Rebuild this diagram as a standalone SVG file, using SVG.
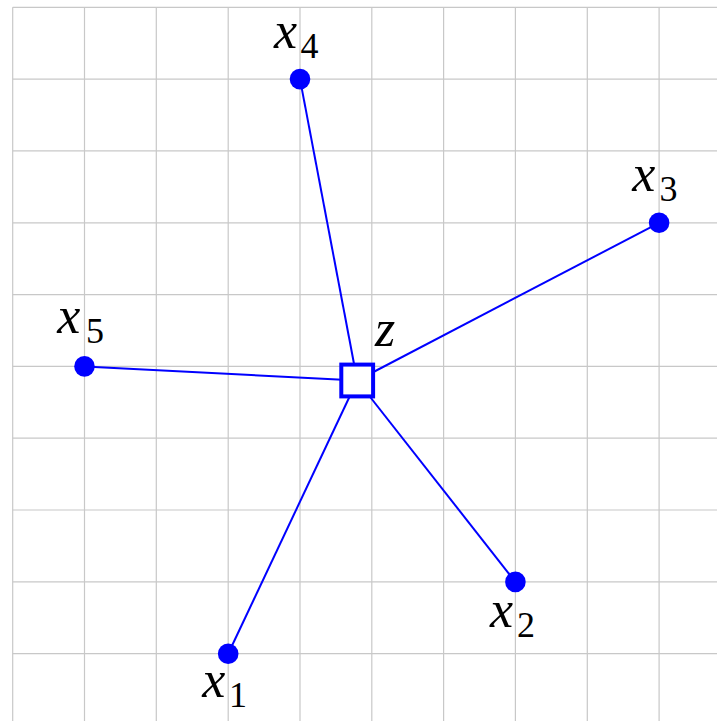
<svg xmlns="http://www.w3.org/2000/svg" width="717" height="721" viewBox="0 0 717 721">
<style>
.grid line{stroke:#c8c8c8;stroke-width:1.2}
.edge{stroke:#0000ff;stroke-width:2;fill:none}
.pt{fill:#0000ff}
.v{font-family:"Liberation Serif","Times New Roman",serif;font-style:italic;font-size:52px;fill:#000}
.s{font-family:"Liberation Serif","Times New Roman",serif;font-size:36px;fill:#000}
</style>
<rect width="717" height="721" fill="#fff"/>
<g class="grid">
<line x1="12.7" y1="7.3" x2="12.7" y2="721"/>
<line x1="84.5" y1="7.3" x2="84.5" y2="721"/>
<line x1="156.3" y1="7.3" x2="156.3" y2="721"/>
<line x1="228.2" y1="7.3" x2="228.2" y2="721"/>
<line x1="300" y1="7.3" x2="300" y2="721"/>
<line x1="371.8" y1="7.3" x2="371.8" y2="721"/>
<line x1="443.6" y1="7.3" x2="443.6" y2="721"/>
<line x1="515.4" y1="7.3" x2="515.4" y2="721"/>
<line x1="587.3" y1="7.3" x2="587.3" y2="721"/>
<line x1="659.1" y1="7.3" x2="659.1" y2="721"/>
<line x1="12.7" y1="7.3" x2="717" y2="7.3"/>
<line x1="12.7" y1="79.1" x2="717" y2="79.1"/>
<line x1="12.7" y1="150.9" x2="717" y2="150.9"/>
<line x1="12.7" y1="222.8" x2="717" y2="222.8"/>
<line x1="12.7" y1="294.6" x2="717" y2="294.6"/>
<line x1="12.7" y1="366.4" x2="717" y2="366.4"/>
<line x1="12.7" y1="438.2" x2="717" y2="438.2"/>
<line x1="12.7" y1="510" x2="717" y2="510"/>
<line x1="12.7" y1="581.9" x2="717" y2="581.9"/>
<line x1="12.7" y1="653.7" x2="717" y2="653.7"/>
</g>
<g id="connectors">
<line class="edge" x1="357.2" y1="380.5" x2="300" y2="79.1"/>
<line class="edge" x1="357.2" y1="380.5" x2="659.1" y2="222.8"/>
<line class="edge" x1="357.2" y1="380.5" x2="84.5" y2="366.4"/>
<line class="edge" x1="357.2" y1="380.5" x2="515.4" y2="581.9"/>
<line class="edge" x1="357.2" y1="380.5" x2="228.2" y2="653.7"/>
</g>
<g id="z">
<rect x="341.3" y="364.6" width="31.8" height="31.8" fill="#fff" stroke="#0000ff" stroke-width="4"/>
<text class="v" x="375" y="346">z</text>
</g>
<g id="x4">
<circle class="pt" cx="300" cy="79.1" r="10.3"/>
<text class="v" x="274" y="48.3">x</text><text class="s" x="300.5" y="58">4</text>
</g>
<g id="x3">
<circle class="pt" cx="659.1" cy="222.8" r="10.3"/>
<text class="v" x="632.3" y="190.7">x</text><text class="s" x="659.5" y="200.7">3</text>
</g>
<g id="x5">
<circle class="pt" cx="84.5" cy="366.4" r="10.3"/>
<text class="v" x="57.3" y="333.3">x</text><text class="s" x="86" y="343.3">5</text>
</g>
<g id="x2">
<circle class="pt" cx="515.4" cy="581.9" r="10.3"/>
<text class="v" x="490" y="626.7">x</text><text class="s" x="517" y="636.7">2</text>
</g>
<g id="x1">
<circle class="pt" cx="228.2" cy="653.7" r="10.3"/>
<text class="v" x="202.3" y="696.7">x</text><text class="s" x="229" y="706.7">1</text>
</g>
</svg>
